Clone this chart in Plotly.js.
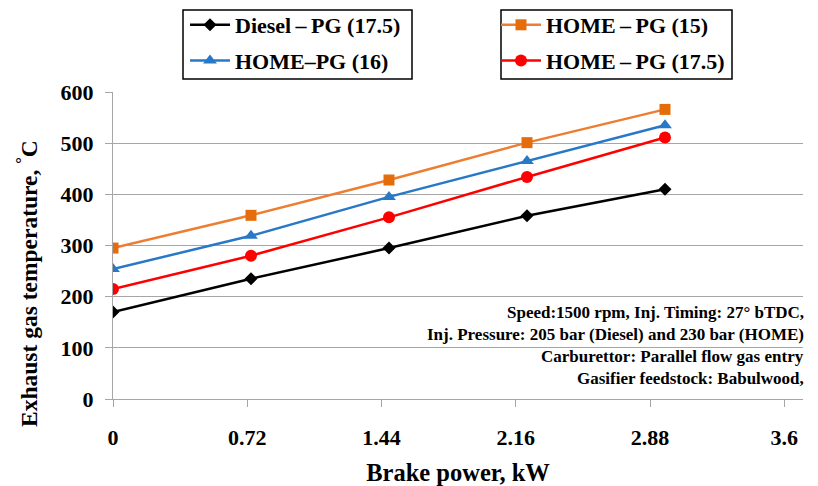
<!DOCTYPE html>
<html>
<head>
<meta charset="utf-8">
<script src="https://cdn.plot.ly/plotly-3.0.1.min.js"></script>
<style>html,body{margin:0;padding:0;background:#fff;}#chart{width:818px;height:486px;}</style>
</head>
<body>
<div id="chart"></div>
<script>
const brakePower = [0, 0.74, 1.48, 2.22, 2.96];
const dieselPG175 = [170, 235, 295, 358, 410];
const homePG15 = [295, 359, 428, 501, 566];
const homePG16 = [254, 319, 395, 465, 535];
const homePG175 = [215, 280, 355, 434, 511];
const xTicks = [0, 0.72, 1.44, 2.16, 2.88, 3.6];
const xTickLabels = ['0', '0.72', '1.44', '2.16', '2.88', '3.6'];
const yTicks = [0, 100, 200, 300, 400, 500, 600];
const seriesNames = ['Diesel\u2009\u2013\u2009PG (17.5)', 'HOME\u2013PG (16)', 'HOME\u2009\u2013\u2009PG (15)', 'HOME\u2009\u2013\u2009PG (17.5)'];
const noteLines = [
  'Speed:1500 rpm, Inj. Timing: 27° bTDC,',
  'Inj. Pressure: 205 bar (Diesel) and 230 bar (HOME)',
  'Carburettor: Parallel flow gas entry',
  'Gasifier feedstock: Babulwood,'
];
const xTitle = 'Brake power, kW';
const yTitle = 'Exhaust gas temperature, <sup>°</sup>C';

const FONT = 'Liberation Serif';

// plot area in pixels: x 113..803, y 92..399
const W = 818, H = 486, L = 113, R = 15, T = 92, B = 87;
const PW = W - L - R, PH = H - T - B;
const px = v => (v - L) / PW;
const py = v => (H - B - v) / PH;

const traces = [
  {x: brakePower, y: dieselPG175, name: '<b>' + seriesNames[0] + '</b>', legend: 'legend', legendgroup: 'a',
   mode: 'lines+markers', line: {color: '#000000', width: 2.5}, marker: {symbol: 'diamond', size: 10, color: '#000000'}},
  {x: brakePower, y: homePG16, name: '<b>' + seriesNames[1] + '</b>', legend: 'legend', legendgroup: 'b',
   mode: 'lines+markers', line: {color: '#2878C8', width: 2.5}, marker: {symbol: 'triangle-up', size: 12, color: '#2878C8'}},
  {x: brakePower, y: homePG15, name: '<b>' + seriesNames[2] + '</b>', legend: 'legend2', legendgroup: 'c',
   mode: 'lines+markers', line: {color: '#ED7D31', width: 2.5}, marker: {symbol: 'square', size: 11, color: '#E46C0A'}},
  {x: brakePower, y: homePG175, name: '<b>' + seriesNames[3] + '</b>', legend: 'legend2', legendgroup: 'd',
   mode: 'lines+markers', line: {color: '#FF0000', width: 2.5}, marker: {symbol: 'circle', size: 12, color: '#FF0000'}}
];

const legendCommon = {
  orientation: 'v', yanchor: 'top', xanchor: 'left', yref: 'paper', xref: 'paper',
  bgcolor: 'rgba(0,0,0,0)', borderwidth: 0,
  font: {family: FONT, size: 22, color: '#000000'}, itemwidth: 40, tracegroupgap: 4
};

const boxStyle = {type: 'rect', xref: 'paper', yref: 'paper', line: {color: '#000000', width: 1.5}, fillcolor: 'rgba(0,0,0,0)', layer: 'above'};

const layout = {
  width: W, height: H,
  margin: {l: L, r: R, t: T, b: B, pad: 0, autoexpand: false},
  paper_bgcolor: '#ffffff', plot_bgcolor: '#ffffff',
  font: {family: FONT, color: '#000000'},
  showlegend: true,
  legend: Object.assign({}, legendCommon, {x: px(185), y: py(4)}),
  legend2: Object.assign({}, legendCommon, {x: px(496), y: py(4)}),
  shapes: [
    Object.assign({}, boxStyle, {x0: px(183), x1: px(412), y0: py(79), y1: py(10)}),
    Object.assign({}, boxStyle, {x0: px(501), x1: px(732), y0: py(79), y1: py(10)})
  ],
  xaxis: {
    range: [0, 3.7], tickvals: xTicks, ticktext: xTickLabels,
    showgrid: false, zeroline: false, showline: true, linecolor: '#a6a6a6', linewidth: 1.2,
    ticks: 'outside', ticklen: 7, tickcolor: '#a6a6a6', ticklabelstandoff: 11,
    tickfont: {family: FONT, size: 22, color: '#000000', weight: 'bold'},
    title: {text: '<b>' + xTitle + '</b>', font: {family: FONT, size: 24.5, color: '#000000'}, standoff: 16}
  },
  yaxis: {
    range: [0, 600], tickvals: yTicks,
    showgrid: true, gridcolor: '#a6a6a6', gridwidth: 1.2, zeroline: false,
    showline: true, linecolor: '#a6a6a6', linewidth: 1.2,
    ticks: 'outside', ticklen: 7, tickcolor: '#a6a6a6', ticklabelstandoff: 7,
    tickfont: {family: FONT, size: 22, color: '#000000', weight: 'bold'}
  },
  annotations: noteLines.map((t, i) => ({
    text: '<b>' + t + '</b>', xref: 'paper', yref: 'paper', x: px(806), xanchor: 'right',
    y: py(312 + i * 22), yanchor: 'middle', showarrow: false,
    font: {family: FONT, size: 17, color: '#000000'}
  })).concat([{
    text: '<b>' + yTitle + '</b>', xref: 'paper', yref: 'paper', x: px(27), xanchor: 'center',
    y: py(284), yanchor: 'middle', textangle: -90, showarrow: false,
    font: {family: FONT, size: 23.5, color: '#000000'}
  }])
};

Plotly.newPlot('chart', traces, layout, {displayModeBar: false, staticPlot: true});
</script>
</body>
</html>
